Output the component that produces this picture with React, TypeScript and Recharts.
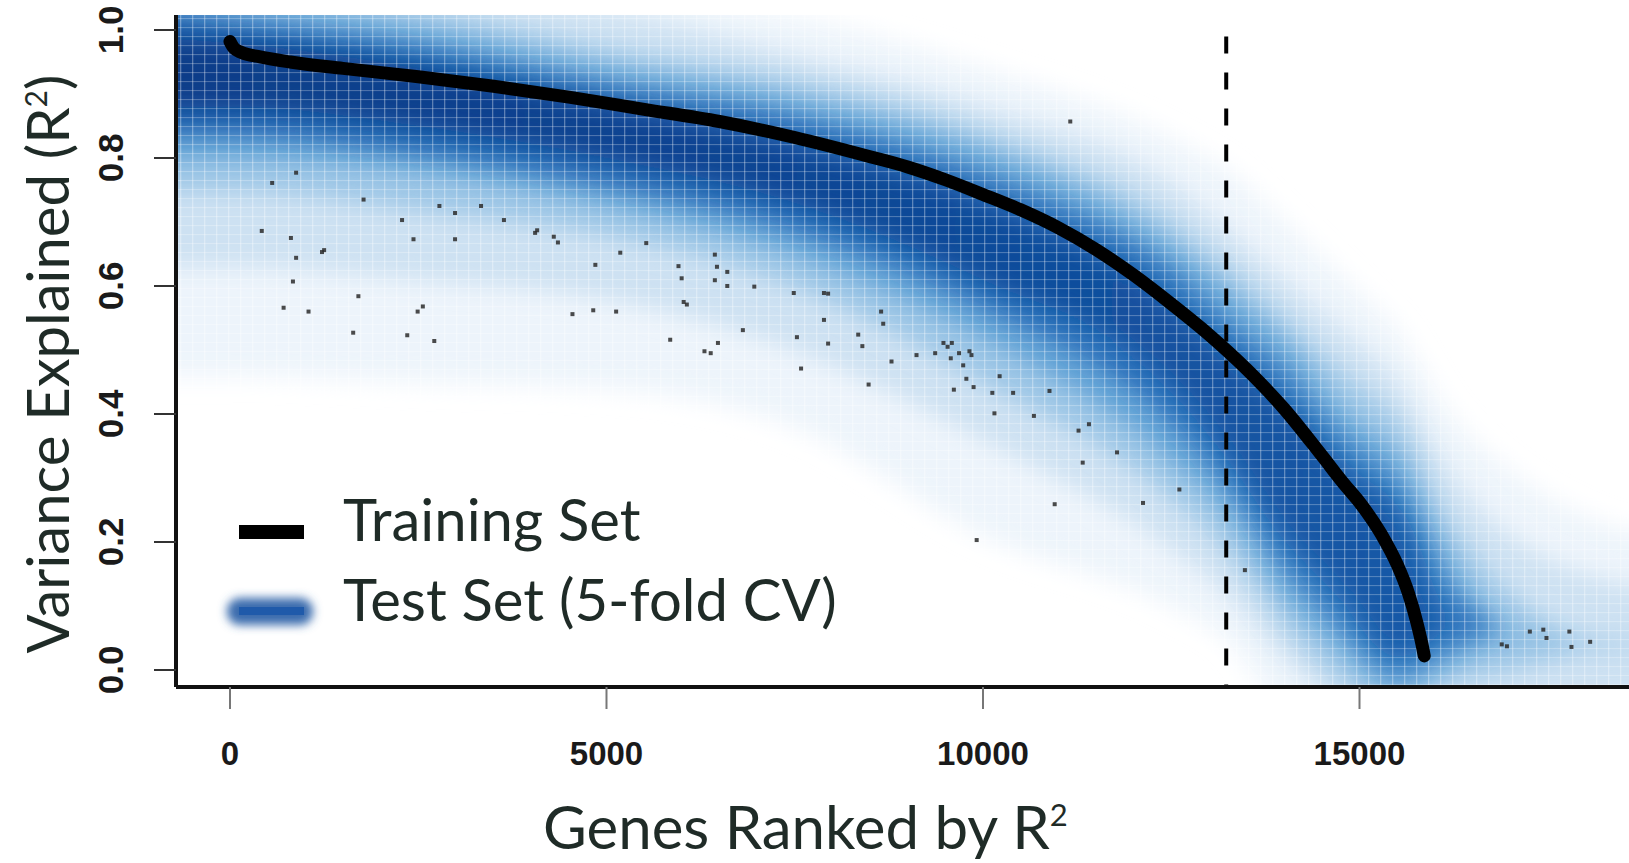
import React from 'react';
import {
  ComposedChart,
  Area,
  Line,
  Scatter,
  XAxis,
  YAxis,
  ReferenceLine,
  ReferenceArea,
  Label,
} from 'recharts';

// ---------- data ----------
const xTicks = [0, 5000, 10000, 15000];
const yTicks = [0, 0.2, 0.4, 0.6, 0.8, 1.0];
const xDomain = [-717, 18579];
const yDomain = [-0.0266, 1.0234];

// training-set R^2 by rank
const trainRanks = [0, 50, 150, 400, 800, 1500, 2500, 3500, 4500, 5500, 6500, 7500, 8500, 9000, 9500, 10000, 10500, 11000, 11500, 12000, 12500, 13000, 13500, 14000, 14500, 14800, 15000, 15300, 15500, 15650, 15760, 15830, 15860];
const trainR2 = [0.982, 0.972, 0.965, 0.958, 0.95, 0.94, 0.927, 0.912, 0.895, 0.876, 0.857, 0.832, 0.802, 0.786, 0.766, 0.743, 0.719, 0.691, 0.657, 0.617, 0.572, 0.524, 0.47, 0.408, 0.335, 0.29, 0.262, 0.21, 0.165, 0.12, 0.075, 0.04, 0.022];

// test-set density band (nested ranges, faint -> dark)
const bandRanks = [-1500, 0, 2500, 5000, 7500, 10000, 12500, 13230, 14000, 14800, 15500, 16200, 17000, 18000, 19500];
const band1Lo = [0.46, 0.46, 0.45, 0.44, 0.38, 0.21, 0.1, 0.05, -0.05, -0.05, -0.05, -0.05, -0.05, -0.05, -0.05];
const band1Hi = [1.05, 1.05, 1.05, 1.05, 1.02, 0.94, 0.83, 0.78, 0.7, 0.61, 0.53, 0.4, 0.31, 0.24, 0.2];
const band2Lo = [0.63, 0.63, 0.61, 0.58, 0.5, 0.36, 0.19, 0.12, 0.02, -0.05, -0.05, -0.05, -0.05, -0.05, -0.05];
const band2Hi = [1.05, 1.05, 1.05, 1.03, 0.96, 0.88, 0.76, 0.69, 0.61, 0.53, 0.45, 0.31, 0.21, 0.15, 0.12];
const band3Lo = [0.75, 0.75, 0.72, 0.68, 0.6, 0.45, 0.27, 0.19, 0.07, -0.02, -0.05, -0.02, 0.0, 0.03, 0.04];
const band3Hi = [1.05, 1.05, 1.03, 0.97, 0.92, 0.84, 0.7, 0.63, 0.55, 0.46, 0.39, 0.23, 0.12, 0.05, 0.04];
const band4Lo = [0.8, 0.8, 0.78, 0.73, 0.65, 0.52, 0.33, 0.25, 0.12, 0.03, -0.03, 0.01, 0.05, 0.05, 0.05];
const band4Hi = [1.05, 1.04, 1.0, 0.94, 0.89, 0.81, 0.66, 0.59, 0.51, 0.4, 0.33, 0.17, 0.06, 0.05, 0.05];
const band5Lo = [0.84, 0.84, 0.81, 0.76, 0.69, 0.57, 0.39, 0.3, 0.17, 0.07, 0.0, 0.04, 0.07, 0.07, 0.07];
const band5Hi = [1.04, 1.01, 0.97, 0.91, 0.86, 0.77, 0.62, 0.54, 0.46, 0.35, 0.28, 0.12, 0.07, 0.07, 0.07];
const band6Lo = [0.88, 0.88, 0.85, 0.8, 0.73, 0.61, 0.45, 0.35, 0.22, 0.12, 0.03, 0.07, 0.07, 0.07, 0.07];
const band6Hi = [0.99, 0.98, 0.94, 0.88, 0.82, 0.73, 0.57, 0.49, 0.41, 0.31, 0.24, 0.07, 0.07, 0.07, 0.07];

// individual test-set genes shown as dots
const dotRanks = [560, 878, 422, 809, 878, 836, 712, 1043, 1250, 1222, 1774, 1705, 1636, 2285, 2437, 2354, 2492, 2561, 2713, 2781, 2989, 2989, 3334, 3638, 4052, 4079, 4355, 4300, 4548, 4852, 4824, 5183, 5128, 5528, 5846, 5956, 5998, 6025, 6067, 6301, 6384, 6439, 6467, 6439, 6480, 6604, 6604, 6811, 6963, 7487, 7529, 7584, 7888, 7943, 7888, 7943, 8343, 8398, 8481, 8647, 8675, 8785, 9117, 9365, 9475, 9530, 9586, 9572, 9613, 9682, 9737, 9820, 9847, 9779, 9875, 10124, 10221, 10152, 10400, 10676, 10883, 10952, 11159, 11269, 11407, 11324, 11780, 12125, 12608, 9916, 13478, 16889, 16958, 17262, 17441, 17483, 17787, 17815, 18063];
const dotR2 = [0.761, 0.777, 0.686, 0.675, 0.644, 0.607, 0.566, 0.56, 0.656, 0.653, 0.735, 0.584, 0.527, 0.703, 0.673, 0.523, 0.56, 0.568, 0.514, 0.725, 0.714, 0.673, 0.725, 0.703, 0.683, 0.687, 0.668, 0.677, 0.556, 0.633, 0.562, 0.652, 0.56, 0.667, 0.516, 0.631, 0.612, 0.575, 0.571, 0.498, 0.495, 0.649, 0.63, 0.609, 0.511, 0.622, 0.6, 0.531, 0.599, 0.589, 0.52, 0.471, 0.589, 0.588, 0.547, 0.51, 0.524, 0.506, 0.446, 0.56, 0.541, 0.482, 0.492, 0.495, 0.511, 0.505, 0.511, 0.487, 0.438, 0.495, 0.476, 0.498, 0.492, 0.455, 0.442, 0.433, 0.459, 0.401, 0.433, 0.397, 0.436, 0.259, 0.857, 0.374, 0.384, 0.324, 0.34, 0.261, 0.282, 0.203, 0.156, 0.04, 0.037, 0.06, 0.063, 0.05, 0.06, 0.036, 0.044];

const cutoffRank = 13230;
const cutoffTop = 0.99;

const legendLabels = ['Training Set', 'Test Set (5-fold CV)'];

// ---------- tables built from the arrays ----------
const trainData = trainRanks.map((x, i) => ({ x, y: trainR2[i] }));
const dotData = dotRanks.map((x, i) => ({ x, y: dotR2[i] }));
const bandData = bandRanks.map((x, i) => ({
  x,
  b1: [band1Lo[i], band1Hi[i]],
  b2: [band2Lo[i], band2Hi[i]],
  b3: [band3Lo[i], band3Hi[i]],
  b4: [band4Lo[i], band4Hi[i]],
  b5: [band5Lo[i], band5Hi[i]],
  b6: [band6Lo[i], band6Hi[i]],
}));

const bandLayers = [
  { key: 'b1', fill: '#edf4fb' },
  { key: 'b2', fill: '#cde1f2' },
  { key: 'b3', fill: '#9cc6e6' },
  { key: 'b4', fill: '#62a2d6' },
  { key: 'b5', fill: 'url(#grad5)' },
  { key: 'b6', fill: 'url(#grad6)' },
];

const TEXT = '#1f2b27';
const TITLE_FONT = 'Lato, "Open Sans", sans-serif';
const TICK_FONT = '"Liberation Sans", Arial, sans-serif';

const XTick = (props: any) => {
  const { x, y, payload } = props;
  return (
    <text x={x} y={y + 54} textAnchor="middle" fontFamily={TICK_FONT} fontWeight="bold" fontSize={33} fill="#1a1a1a">
      {payload.value}
    </text>
  );
};

const YTick = (props: any) => {
  const { x, y, payload } = props;
  const tx = x - 29;
  return (
    <text x={tx} y={y} transform={`rotate(-90 ${tx} ${y})`} textAnchor="middle" fontFamily={TICK_FONT} fontWeight="bold" fontSize={35} fill="#1a1a1a">
      {Number(payload.value).toFixed(1)}
    </text>
  );
};

const DotShape = (props: any) => {
  const { cx, cy } = props;
  if (cx == null || cy == null) return null;
  return <rect x={cx - 2} y={cy - 2} width={4} height={4} fill="#2b2b2b" opacity={0.85} />;
};

const Legend = () => (
  <svg width={1629} height={863} style={{ position: 'absolute', left: 0, top: 0, pointerEvents: 'none' }}>
    <defs>
      <filter id="legBlur" x="-30%" y="-60%" width="160%" height="220%">
        <feGaussianBlur stdDeviation="5" />
      </filter>
    </defs>
    <rect x={239} y={525} width={65} height={14} fill="#000" />
    <text x={343} y={541} fontFamily={TITLE_FONT} fontSize={58} fill={TEXT}>{legendLabels[0]}</text>
    <rect x={227} y={598} width={86} height={27} rx={13} fill="#3a6cad" filter="url(#legBlur)" />
    <rect x={239} y={607} width={65} height={8} fill="#1f5aaa" />
    <text x={343} y={621} fontFamily={TITLE_FONT} fontSize={58} fill={TEXT}>{legendLabels[1]}</text>
  </svg>
);

export default function App() {
  return (
    <div style={{ position: 'absolute', left: 0, top: 0, width: 1629, height: 863, background: '#fff' }}>
      <ComposedChart width={1629} height={863} margin={{ top: 15, right: 0, left: 76, bottom: 76 }}>
        <defs>
          <filter id="bandBlur" x="-10%" y="-10%" width="120%" height="120%">
            <feGaussianBlur stdDeviation="12" />
          </filter>
          <linearGradient id="grad5" x1="0" y1="0" x2="1" y2="0">
            <stop offset="0%" stopColor="#2062ae" />
            <stop offset="60%" stopColor="#2a6fb9" />
            <stop offset="100%" stopColor="#3379c0" />
          </linearGradient>
          <linearGradient id="grad6" x1="0" y1="0" x2="1" y2="0">
            <stop offset="0%" stopColor="#093d88" />
            <stop offset="40%" stopColor="#0b4493" />
            <stop offset="100%" stopColor="#1c62b0" />
          </linearGradient>
          <pattern id="cellGrid" patternUnits="userSpaceOnUse" width={12} height={9}>
            <rect x={0} y={0} width={1.3} height={9} fill="#ffffff" opacity={0.33} />
            <rect x={0} y={0} width={12} height={1.1} fill="#ffffff" opacity={0.26} />
          </pattern>
        </defs>
        <XAxis
          type="number"
          dataKey="x"
          domain={xDomain}
          allowDataOverflow
          ticks={xTicks}
          height={100}
          tickSize={22}
          tickLine={{ stroke: '#777', strokeWidth: 2 }}
          axisLine={{ stroke: '#111', strokeWidth: 4 }}
          tick={<XTick />}
          interval={0}
        >
          <Label
            content={() => (
              <text x={543} y={849} fontFamily={TITLE_FONT} fontSize={60} fill={TEXT}>
                Genes Ranked by R<tspan dy={-23} fontSize={31}>2</tspan>
              </text>
            )}
          />
        </XAxis>
        <YAxis
          type="number"
          domain={yDomain}
          allowDataOverflow
          ticks={yTicks}
          width={100}
          tickSize={22}
          tickLine={{ stroke: '#333', strokeWidth: 2 }}
          axisLine={{ stroke: '#111', strokeWidth: 4 }}
          tick={<YTick />}
          interval={0}
        >
          <Label
            content={() => (
              <text x={69} y={364} transform="rotate(-90 69 364)" textAnchor="middle" fontFamily={TITLE_FONT} fontSize={58} fill={TEXT}>
                Variance Explained (R<tspan dy={-22} fontSize={30}>2</tspan><tspan dy={22}>)</tspan>
              </text>
            )}
          />
        </YAxis>
        {bandLayers.map((l) => (
          <Area
            key={l.key}
            data={bandData}
            dataKey={l.key}
            type="monotone"
            stroke="none"
            fill={l.fill}
            fillOpacity={1}
            filter="url(#bandBlur)"
            dot={false}
            activeDot={false}
            isAnimationActive={false}
          />
        ))}
        <ReferenceArea x1={xDomain[0]} x2={xDomain[1]} y1={yDomain[0]} y2={yDomain[1]} fill="url(#cellGrid)" fillOpacity={1} stroke="none" />
        <Scatter data={dotData} dataKey="y" shape={<DotShape />} isAnimationActive={false} />
        <Line
          data={trainData}
          dataKey="y"
          type="monotone"
          stroke="#000"
          strokeWidth={13}
          strokeLinecap="round"
          strokeLinejoin="round"
          dot={false}
          activeDot={false}
          isAnimationActive={false}
        />
        <ReferenceLine
          segment={[{ x: cutoffRank, y: cutoffTop }, { x: cutoffRank, y: yDomain[0] }]}
          stroke="#000"
          strokeWidth={4}
          strokeDasharray="17 19"
        />
      </ComposedChart>
      <Legend />
    </div>
  );
}
